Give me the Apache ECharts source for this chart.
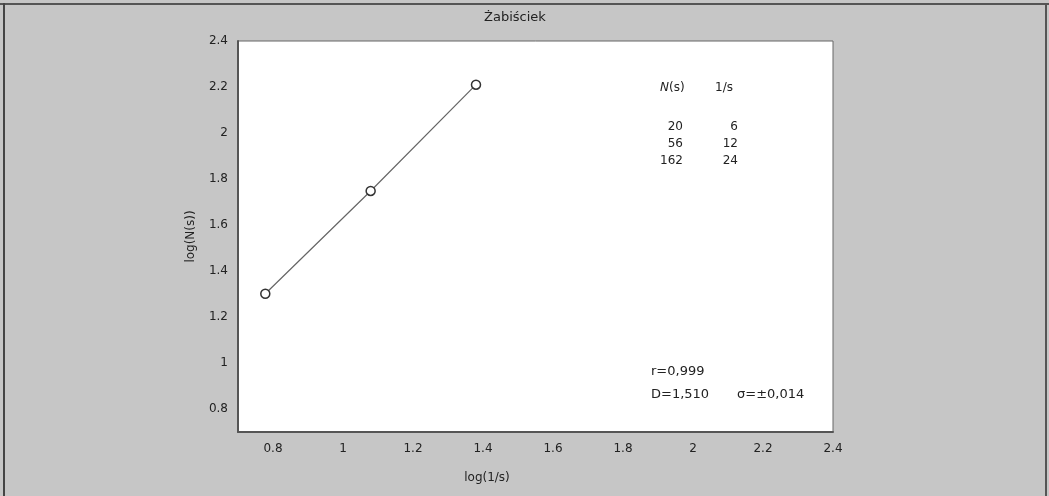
<!DOCTYPE html>
<html>
<head>
<meta charset="utf-8">
<script src="https://cdn.jsdelivr.net/npm/echarts@6/dist/echarts.min.js"></script>
<style>
html,body{margin:0;padding:0;background:#c6c6c6;}
#c{width:1049px;height:496px;}
</style>
</head>
<body>
<div id="c"></div>
<script>
// Data
const logInvS = [0.778, 1.079, 1.380];   // log(1/s)
const logNs   = [1.301, 1.748, 2.210];   // log(N(s))
const tableNs = [20, 56, 162];
const tableInvS = [6, 12, 24];
const xTicks = [0.8, 1, 1.2, 1.4, 1.6, 1.8, 2, 2.2, 2.4];
const yTicks = [0.8, 1, 1.2, 1.4, 1.6, 1.8, 2, 2.2, 2.4];
const titleText = 'Żabiściek';
const xName = 'log(1/s)';
const yName = 'log(N(s))';
const statR = 'r=0,999';
const statD = 'D=1,510';
const statSigma = 'σ=±0,014';

const font = '"DejaVu Sans", Verdana, sans-serif';
const txt = '#222';

const points = logInvS.map((x, i) => [x, logNs[i]]);

const tableTexts = [];
tableNs.forEach((n, i) => {
  tableTexts.push({type:'text', style:{text:String(n), x:683, y:127 + i*17, textAlign:'right', textVerticalAlign:'middle', font:'12px ' + font, fill:txt}});
  tableTexts.push({type:'text', style:{text:String(tableInvS[i]), x:738, y:127 + i*17, textAlign:'right', textVerticalAlign:'middle', font:'12px ' + font, fill:txt}});
});

const chart = echarts.init(document.getElementById('c'), null, {renderer:'canvas'});
chart.setOption({
  backgroundColor:'#c6c6c6',
  animation:false,
  grid:{left:238, top:41, width:595, height:391, show:true, backgroundColor:'#ffffff', borderColor:'#666', borderWidth:1},
  xAxis:{
    type:'value', min:0.7, max:2.4,
    axisLine:{show:true, lineStyle:{color:'#555', width:2}},
    axisTick:{show:false},
    splitLine:{show:false},
    axisLabel:{customValues:xTicks, margin:11, color:txt, fontFamily:font, fontSize:12}
  },
  yAxis:{
    type:'value', min:0.7, max:2.4,
    name:yName, nameLocation:'middle', nameGap:41, nameRotate:90,
    nameTextStyle:{color:txt, fontFamily:font, fontSize:12},
    axisLine:{show:true, lineStyle:{color:'#555', width:2}},
    axisTick:{show:false},
    splitLine:{show:false},
    axisLabel:{customValues:yTicks, margin:10, color:txt, fontFamily:font, fontSize:12}
  },
  series:[{
    type:'line', data:points, symbol:'circle', symbolSize:9,
    lineStyle:{color:'#666', width:1.2},
    itemStyle:{color:'#ffffff', borderColor:'#333', borderWidth:1.5},
    z:3
  }],
  graphic:[
    {type:'rect', shape:{x:0, y:3, width:1049, height:2}, style:{fill:'#555'}},
    {type:'rect', shape:{x:3, y:3, width:2, height:493}, style:{fill:'#444'}},
    {type:'rect', shape:{x:1045, y:3, width:2, height:493}, style:{fill:'#555'}},
    {type:'text', style:{text:titleText, x:515, y:18, textAlign:'center', textVerticalAlign:'middle', font:'13px ' + font, fill:txt}},
    {type:'text', style:{text:xName, x:487, y:478, textAlign:'center', textVerticalAlign:'middle', font:'12px ' + font, fill:txt}},
    {type:'text', style:{text:'N', x:660, y:88, textAlign:'left', textVerticalAlign:'middle', font:'italic 12px ' + font, fill:txt}},
    {type:'text', style:{text:'(s)', x:669, y:88, textAlign:'left', textVerticalAlign:'middle', font:'12px ' + font, fill:txt}},
    {type:'text', style:{text:'1/s', x:715, y:88, textAlign:'left', textVerticalAlign:'middle', font:'12px ' + font, fill:txt}},
    ...tableTexts,
    {type:'text', style:{text:statR, x:651, y:372, textAlign:'left', textVerticalAlign:'middle', font:'13px ' + font, fill:txt}},
    {type:'text', style:{text:statD, x:651, y:395, textAlign:'left', textVerticalAlign:'middle', font:'13px ' + font, fill:txt}},
    {type:'text', style:{text:statSigma, x:737, y:395, textAlign:'left', textVerticalAlign:'middle', font:'13px ' + font, fill:txt}}
  ]
});
</script>
</body>
</html>
